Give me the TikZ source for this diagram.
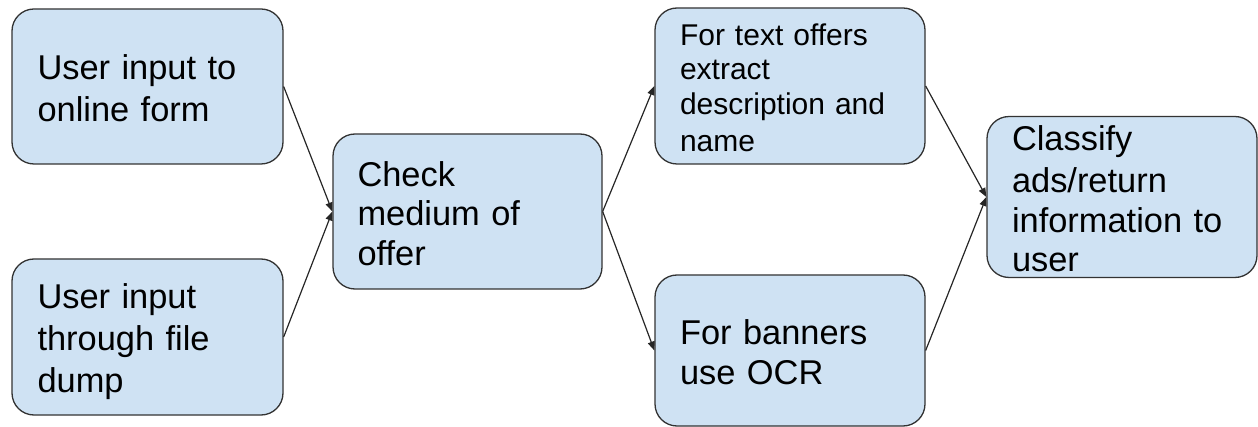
\documentclass[tikz,border=0pt]{standalone}
\usepackage{fontspec}
\setmainfont{Liberation Sans}
\usetikzlibrary{arrows.meta}
\definecolor{boxfill}{HTML}{CFE2F3}
\definecolor{boxline}{HTML}{333333}
\newcommand\gstrut{\rule[-0.16em]{0pt}{1.15em}}
\tikzset{
  flowbox/.style={draw=boxline, line width=1.3pt, fill=boxfill, rounded corners=22pt,
    inner sep=0pt, align=left, minimum width=270pt, minimum height=155pt,
    text width=220pt, font=\fontsize{34.4}{39.6}\selectfont},
  smalltext/.style={font=\fontsize{30}{34.5}\selectfont},
  flowarrow/.style={-{Triangle[length=9pt,width=7pt]}, line width=1.2pt, black!85}
}
\begin{document}
\begin{tikzpicture}[x=1pt,y=-1pt]
\useasboundingbox (0,0) rectangle (1258,427);
\node[flowbox, minimum width=271pt, minimum height=155pt] (a) at (147.5,86.5)
  {\gstrut User input to\gstrut\\\gstrut online form\gstrut};
\node[flowbox, minimum width=271pt, minimum height=156pt] (b) at (147.5,337)
  {\gstrut User input\gstrut\\\gstrut through file\gstrut\\\gstrut dump\gstrut};
\node[flowbox, minimum width=269pt, minimum height=155pt] (c) at (467.5,211.5)
  {\gstrut Check\gstrut\\\gstrut medium of\gstrut\\\gstrut offer\gstrut};
\node[flowbox, smalltext, minimum width=270pt, minimum height=156pt] (d) at (790,86)
  {\gstrut For text offers\gstrut\\\gstrut extract\gstrut\\\gstrut description and\gstrut\\\gstrut name\gstrut};
\node[flowbox, minimum width=270pt, minimum height=151pt] (e) at (790,350.5)
  {\gstrut For banners\gstrut\\\gstrut use OCR\gstrut};
\node[flowbox, minimum width=270pt, minimum height=156pt] (f) at (1122,197)
  {\gstrut Classify\gstrut\\\gstrut ads/return\gstrut\\\gstrut information to\gstrut\\\gstrut user\gstrut};
\draw[flowarrow] (a.east) -- (c.west);
\draw[flowarrow] (b.east) -- (c.west);
\draw[flowarrow] (c.east) -- (d.west);
\draw[flowarrow] (c.east) -- (e.west);
\draw[flowarrow] (d.east) -- (f.west);
\draw[flowarrow] (e.east) -- (f.west);
\end{tikzpicture}
\end{document}
